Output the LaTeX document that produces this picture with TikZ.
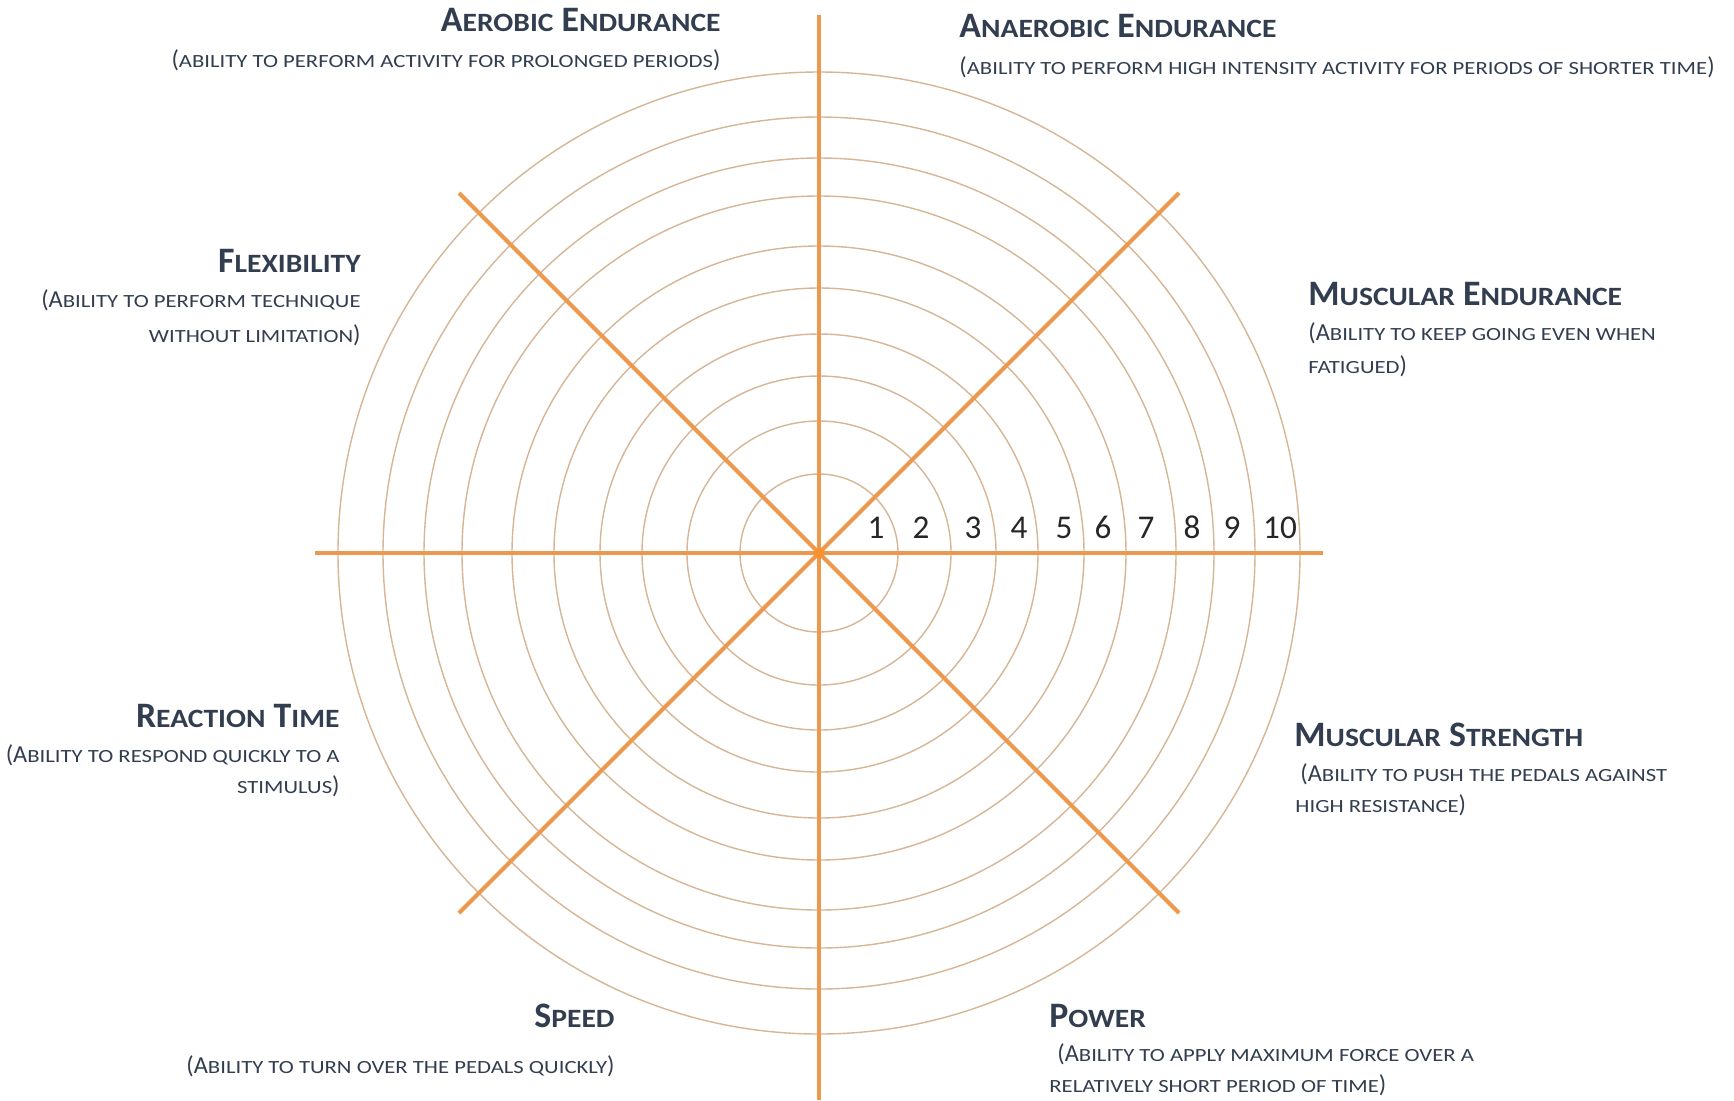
\documentclass[tikz,border=0pt]{standalone}
\usepackage{fontspec}
\setmainfont{Carlito}
\newfontfamily\hdsmall[FakeStretch=1.12]{Carlito}
\newfontfamily\sbsmall[FakeStretch=1.22]{Carlito}
\usepackage{xcolor}
\usepackage{tikz}
\usetikzlibrary{positioning}

\definecolor{ink}{RGB}{50,62,79}
\definecolor{axorange}{RGB}{236,152,77}
\definecolor{ringtan}{RGB}{214,182,150}
\definecolor{hub}{RGB}{247,146,45}

% small capitals, made by hand
\newcommand\hdsc[1]{{\hdsmall\bfseries\fontsize{13.2}{15}\selectfont #1}}
\newcommand\subsc[1]{{\sbsmall\fontsize{9.3}{11}\selectfont #1}}

\begin{document}
\begin{tikzpicture}[x=0.5pt, y=-0.5pt,
    hd/.style={%
      font=\bfseries\fontsize{17.9}{20}\selectfont, text=ink, inner sep=0pt
    },
    sb/.style={%
      font=\fontsize{12.2}{14}\selectfont, text=ink, inner sep=0pt
    },
    nm/.style={%
      font=\fontsize{16.6}{18}\selectfont, text=black!85, inner sep=0pt, anchor=base
    },
    ax/.style={draw=axorange, line width=2pt},
    rg/.style={draw=ringtan, line width=0.7pt}
]
    \fill[white] (0,0) rectangle (1734,1100);
    \useasboundingbox (0,0) rectangle (1734,1100);

    % centre and spoke ends
    \coordinate (c)  at (819,553);
    \coordinate (N)  at (819,15);
    \coordinate (S)  at (819,1100);
    \coordinate (W)  at (315,553);
    \coordinate (E)  at (1323,553);
    \coordinate (NW) at (459,193);
    \coordinate (NE) at (1179,193);
    \coordinate (SW) at (459,913);
    \coordinate (SE) at (1179,913);

    % rings
    \foreach \r in {79,132,177,219,265,307,357,395,436,481}{
      \draw[rg] (c) circle (\r);
    }

    \draw[ax] (N)  -- (S);
    \draw[ax] (W)  -- (E);
    \draw[ax] (NW) -- (SE);
    \draw[ax] (NE) -- (SW);
    \fill[hub] (c) circle (5);

    % scale
    \foreach \k/\x in {1/876, 2/921, 3/973, 4/1019, 5/1064, 6/1103, 7/1146, 8/1192, 9/1232, 10/1280}{
      \node[nm] (n\k) at (\x,538) {\k};
    }

    % labels
    \node[hd, anchor=base east] (aer1) at (721,31)  {A\hdsc{EROBIC} E\hdsc{NDURANCE}};
    \node[sb, anchor=base east] (aer2) at (721,67)  {(\subsc{ABILITY TO PERFORM ACTIVITY FOR PROLONGED PERIODS})};

    \node[hd, anchor=base west] (ana1) at (959,37)  {A\hdsc{NAEROBIC} E\hdsc{NDURANCE}};
    \node[sb, anchor=base west] (ana2) at (959,74)  {(\subsc{ABILITY TO PERFORM HIGH INTENSITY ACTIVITY FOR PERIODS OF SHORTER TIME})};

    \node[hd, anchor=base east] (flx1) at (361,272) {F\hdsc{LEXIBILITY}};
    \node[sb, anchor=base east] (flx2) at (361,307) {(A\subsc{BILITY TO PERFORM TECHNIQUE}};
    \node[sb, anchor=base east] (flx3) at (361,342) {\subsc{WITHOUT LIMITATION})};

    \node[hd, anchor=base west] (mse1) at (1308,305) {M\hdsc{USCULAR} E\hdsc{NDURANCE}};
    \node[sb, anchor=base west] (mse2) at (1308,340) {(A\subsc{BILITY TO KEEP GOING EVEN WHEN}};
    \node[sb, anchor=base west] (mse3) at (1308,373) {\subsc{FATIGUED})};

    \node[hd, anchor=base east] (rct1) at (340,727) {R\hdsc{EACTION} T\hdsc{IME}};
    \node[sb, anchor=base east] (rct2) at (340,762) {(A\subsc{BILITY TO RESPOND QUICKLY TO A}};
    \node[sb, anchor=base east] (rct3) at (340,793) {\subsc{STIMULUS})};

    \node[hd, anchor=base west] (mss1) at (1294,746) {M\hdsc{USCULAR} S\hdsc{TRENGTH}};
    \node[sb, anchor=base west] (mss2) at (1300,781) {(A\subsc{BILITY TO PUSH THE PEDALS AGAINST}};
    \node[sb, anchor=base west] (mss3) at (1295,812) {\subsc{HIGH RESISTANCE})};

    \node[hd, anchor=base east] (spd1) at (615,1027) {S\hdsc{PEED}};
    \node[sb, anchor=base east] (spd2) at (615,1073) {(A\subsc{BILITY TO TURN OVER THE PEDALS QUICKLY})};

    \node[hd, anchor=base west] (pow1) at (1049,1027) {P\hdsc{OWER}};
    \node[sb, anchor=base west] (pow2) at (1057,1061) {(A\subsc{BILITY TO APPLY MAXIMUM FORCE OVER A}};
    \node[sb, anchor=base west] (pow3) at (1049,1092) {\subsc{RELATIVELY SHORT PERIOD OF TIME})};

\end{tikzpicture}
\end{document}
